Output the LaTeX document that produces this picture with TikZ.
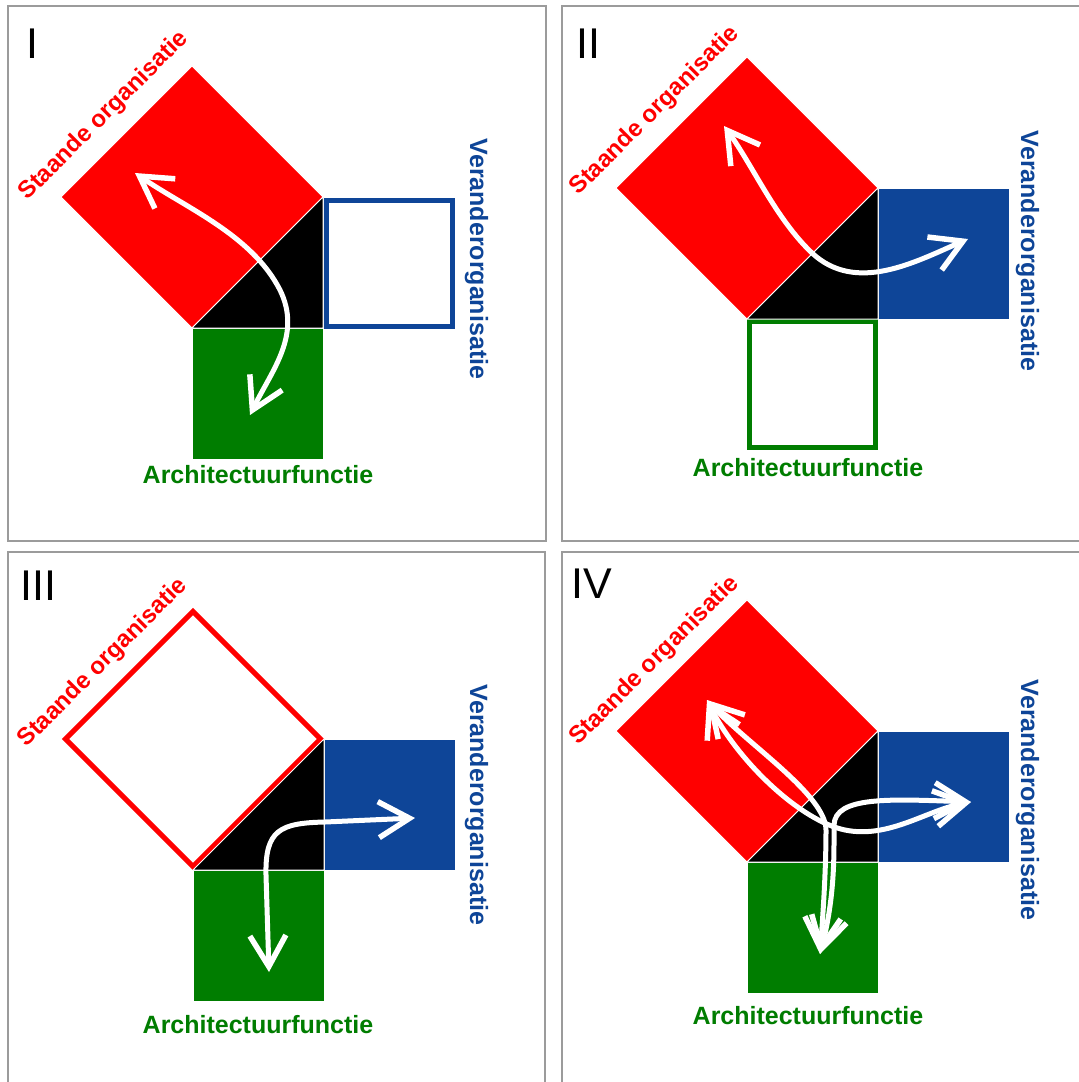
\documentclass[tikz,border=0pt]{standalone}
\usepackage{fontspec}
\setmainfont{Liberation Sans}
\usetikzlibrary{arrows.meta}
\definecolor{sred}{RGB}{255,0,0}
\definecolor{sblue}{RGB}{14,69,152}
\definecolor{sgreen}{RGB}{0,125,0}
\definecolor{framegray}{RGB}{155,155,155}
\begin{document}
\begin{tikzpicture}[x=1pt,y=-1pt,
  panel/.style={draw=framegray, line width=1.5pt},
  fsq/.style={draw=white, line width=1pt, minimum size=131pt, inner sep=0pt, outer sep=0pt},
  fdia/.style={draw=white, line width=1pt, minimum size=185.3pt, inner sep=0pt, outer sep=0pt, rotate=45},
  esq/.style={line width=5pt, fill=white, minimum size=126pt, inner sep=0pt, outer sep=0pt},
  edia/.style={line width=5pt, fill=white, minimum size=180.3pt, inner sep=0pt, outer sep=0pt, rotate=45},
  tri/.style={fill=black, draw=white, line width=1pt},
  lblr/.style={font=\fontsize{24}{28}\selectfont\bfseries, inner sep=0pt, text=sred, rotate=45},
  lblb/.style={font=\fontsize{25}{30}\selectfont\bfseries, inner sep=0pt, text=sblue, rotate=-90, anchor=base},
  lblg/.style={font=\fontsize{25}{30}\selectfont\bfseries, inner sep=0pt, text=sgreen, anchor=base},
  num/.style={font=\fontsize{43}{50}\selectfont, inner sep=0pt, anchor=base west},
  barb/.style={Straight Barb[length=31pt,width=36pt,line width=5.5pt]},
  flow/.style={draw=white, line width=5pt, {Straight Barb[length=31pt,width=36pt,line width=5.5pt]}-{Straight Barb[length=31pt,width=36pt,line width=5.5pt]}},
]
\useasboundingbox (0,0) rectangle (1079,1082);
\clip (0,0) rectangle (1079,1082);
\fill[white] (0,0) rectangle (1079,1082);

% frames
\draw[panel] (8,6) rectangle (546,541);
\draw[panel] (562,6) rectangle (1095,541);
\draw[panel] (8,552) rectangle (545,1095);
\draw[panel] (562,552) rectangle (1095,1095);

% ===== Panel I  (C = 323,328)
\node[fdia, fill=sred] (red1) at (192,197) {};
\node[fsq, fill=sgreen] (green1) at (257.5,393.5) {};
\node[esq, draw=sblue] (blue1) at (389,263) {};
\path[tri] (323,328) -- (323,197) -- (192,328) -- cycle;
\node[lblr] (so1) at (104,116) {Staande organisatie};
\node[lblb] (vo1) at (470,259) {Veranderorganisatie};
\node[lblg] (af1) at (258,483) {Architectuurfunctie};
\node[num] (n1) at (26,58) {I};
\coordinate (aR1) at (135,173);
\coordinate (aG1) at (250,415);
\draw[flow] (aR1) .. controls (186,208) and (252,235) .. (280,290) .. controls (302,335) and (272,370) .. (aG1);

% ===== Panel II  (C = 878,319)
\node[fdia, fill=sred] (red2) at (747,188) {};
\node[fsq, fill=sblue] (blue2) at (943.5,253.5) {};
\node[esq, draw=sgreen] (green2) at (812.5,384.5) {};
\path[tri] (878,319) -- (878,188) -- (747,319) -- cycle;
\node[lblr] (so2) at (655,111) {Staande organisatie};
\node[lblb] (vo2) at (1021,251) {Veranderorganisatie};
\node[lblg] (af2) at (808,476) {Architectuurfunctie};
\node[num] (n2) at (576,58) {II};
\coordinate (aR2) at (724,126);
\coordinate (aB2) at (968,239);
\draw[flow] (aR2) .. controls (753,166) and (776,219) .. (812,253) .. controls (856,294) and (915,262) .. (aB2);

% ===== Panel III  (C = 324,870)
\node[edia, draw=sred] (red3) at (193,739) {};
\node[fsq, fill=sblue] (blue3) at (389.5,804.5) {};
\node[fsq, fill=sgreen] (green3) at (258.5,935.5) {};
\path[tri] (324,870) -- (324,739) -- (193,870) -- cycle;
\node[lblr] (so3) at (103,663) {Staande organisatie};
\node[lblb] (vo3) at (470,805) {Veranderorganisatie};
\node[lblg] (af3) at (258,1033) {Architectuurfunctie};
\node[num] (n3) at (20,600) {III};
\coordinate (aG3) at (269,972);
\coordinate (aB3) at (415,818);
\draw[flow] (aG3) -- (266,875) .. controls (265,830) and (280,823) .. (325,822) -- (aB3);

% ===== Panel IV  (C = 878,862)
\node[fdia, fill=sred] (red4) at (747,731) {};
\node[fsq, fill=sblue] (blue4) at (943.5,796.5) {};
\node[fsq, fill=sgreen] (green4) at (812.5,927.5) {};
\path[tri] (878,862) -- (878,731) -- (747,862) -- cycle;
\node[lblr] (so4) at (654.5,661) {Staande organisatie};
\node[lblb] (vo4) at (1021,800) {Veranderorganisatie};
\node[lblg] (af4) at (808,1024) {Architectuurfunctie};
\node[num] (n4) at (571,598) {IV};
\coordinate (aR4) at (707,700);
\coordinate (aG4) at (820,954);
\coordinate (aB4) at (971,802);
\draw[flow] (aR4) .. controls (747,744) and (826,795) .. (826,830) .. controls (826,870) and (823,915) .. (aG4);
\draw[flow] (aR4) .. controls (738,762) and (801,821) .. (845,830) .. controls (889,839) and (927,810) .. (aB4);
\draw[flow] (aG4) .. controls (835,896) and (834,855) .. (834,825) .. controls (835,796) and (890,799) .. (aB4);
\end{tikzpicture}
\end{document}
